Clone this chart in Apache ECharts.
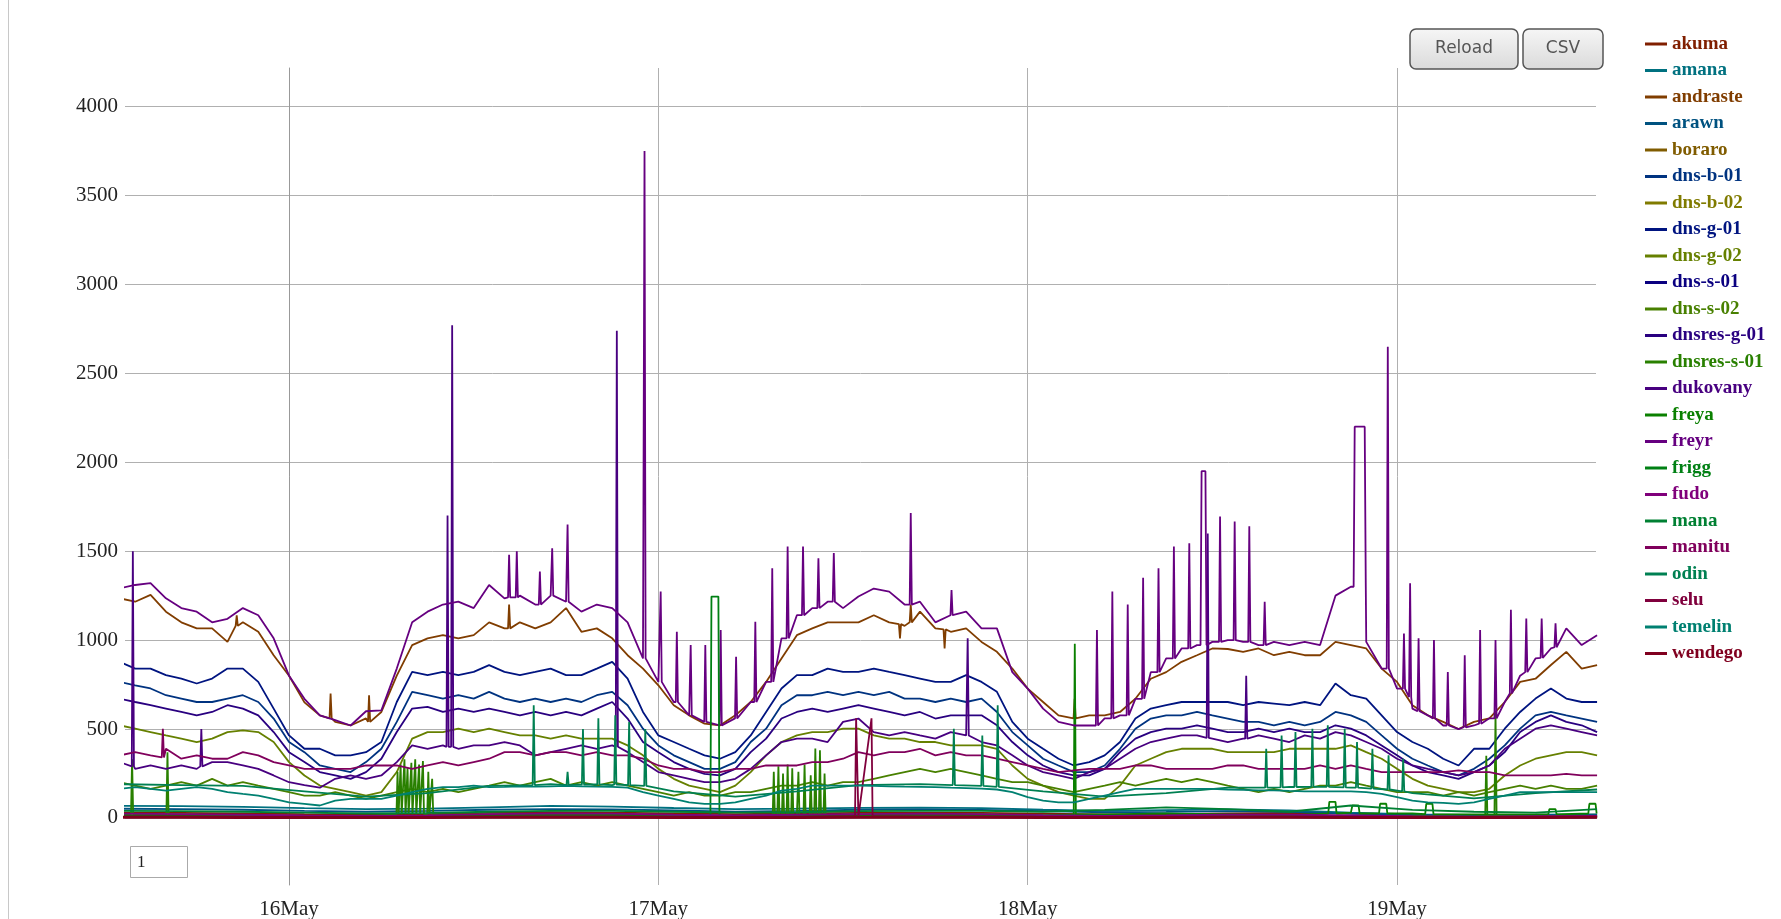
<!DOCTYPE html>
<html>
<head>
<meta charset="utf-8">
<title>dns load</title>
<script src="https://cdn.jsdelivr.net/npm/echarts@6/dist/echarts.min.js"></script>
<style>
    html, body { margin: 0; padding: 0; background: #fff; }
    #main { width: 1781px; height: 919px; }
</style>
</head>
<body>
<div id="main"></div>
<script>
// x values are hours counted from 16May 00:00
var firstHour = -11;
var xMin = -10.66, xMax = 84.93;
var yMin = -377, yMax = 4217;
var dayLabels = ['16May', '17May', '18May', '19May'];

var hostNames = ['akuma', 'amana', 'andraste', 'arawn', 'boraro', 'dns-b-01', 'dns-b-02', 'dns-g-01',
    'dns-g-02', 'dns-s-01', 'dns-s-02', 'dnsres-g-01', 'dnsres-s-01', 'dukovany', 'freya', 'freyr',
    'frigg', 'fudo', 'mana', 'manitu', 'odin', 'selu', 'temelin', 'wendego'];
var hostColors = ['#801f00', '#007180', '#803d00', '#005280', '#805c00', '#003380', '#807b00', '#001480',
    '#668000', '#0a0080', '#488000', '#290080', '#298000', '#480080', '#0a8000', '#660080',
    '#008014', '#80007b', '#008033', '#80005c', '#008052', '#80003d', '#008071', '#80001f'];

// hourly samples (97 values, -11h .. 85h)
var freyr = [1291, 1310, 1320, 1235, 1180, 1160, 1100, 1120, 1180, 1140, 1010, 800, 670, 577, 550, 520, 600, 605, 840, 1100, 1160, 1200, 1216, 1180,
    1310, 1235, 1250, 1200, 1250, 1216, 1160, 1200, 1180, 1100, 897, 765, 652, 577, 540, 520, 560, 652, 765, 1010, 1140, 1180, 1216, 1180,
    1245, 1290, 1273, 1200, 1216, 1100, 1140, 1160, 1066, 1066, 820, 727, 615, 540, 520, 520, 560, 577, 670, 820, 897, 953, 972, 990,
    1000, 990, 972, 990, 972, 990, 972, 1250, 1300, 990, 840, 727, 615, 577, 520, 500, 520, 560, 652, 800, 897, 953, 1066, 972, 1028];
var andraste = [1235, 1216, 1254, 1160, 1100, 1066, 1066, 990, 1100, 1047, 915, 800, 650, 577, 540, 520, 560, 596, 800, 972, 1010, 1028, 1010, 1028,
    1100, 1066, 1100, 1066, 1100, 1180, 1047, 1066, 1010, 915, 840, 746, 634, 577, 530, 520, 577, 652, 765, 897, 1028, 1066, 1100, 1100,
    1100, 1140, 1100, 1080, 1160, 1066, 1047, 1066, 990, 934, 840, 727, 652, 577, 560, 577, 577, 596, 670, 783, 820, 878, 915, 953,
    950, 934, 953, 915, 934, 915, 915, 990, 972, 953, 840, 765, 634, 577, 540, 500, 540, 560, 652, 765, 783, 860, 934, 840, 860];
var dnsG01 = [878, 840, 840, 803, 784, 756, 784, 840, 840, 765, 615, 464, 389, 389, 352, 352, 370, 427, 652, 821, 803, 821, 803, 821,
    859, 821, 803, 821, 840, 803, 803, 840, 878, 784, 596, 464, 427, 389, 352, 333, 370, 464, 596, 728, 803, 803, 840, 821,
    821, 840, 821, 803, 784, 765, 765, 803, 765, 709, 540, 446, 389, 333, 295, 314, 352, 427, 559, 615, 634, 652, 652, 652,
    652, 634, 652, 643, 634, 652, 634, 756, 690, 671, 577, 483, 427, 389, 333, 295, 389, 389, 502, 596, 671, 728, 671, 652, 652];
var dnsB01 = [765, 746, 728, 690, 671, 652, 652, 671, 690, 652, 559, 427, 370, 295, 276, 258, 314, 389, 540, 709, 690, 671, 690, 671,
    709, 671, 652, 671, 652, 671, 652, 690, 709, 634, 502, 408, 352, 314, 276, 276, 314, 427, 502, 634, 690, 690, 709, 690,
    709, 690, 709, 671, 671, 652, 671, 652, 671, 596, 483, 408, 333, 295, 258, 258, 295, 389, 502, 559, 577, 577, 596, 577,
    559, 540, 540, 521, 540, 521, 540, 596, 577, 540, 464, 389, 333, 295, 258, 239, 276, 333, 408, 502, 577, 596, 577, 559, 540];
var dnsresG01 = [671, 652, 634, 615, 596, 577, 596, 634, 615, 577, 483, 370, 314, 258, 239, 220, 258, 333, 483, 615, 625, 596, 615, 596,
    615, 596, 577, 596, 577, 596, 577, 615, 652, 559, 427, 370, 314, 276, 248, 239, 276, 370, 446, 559, 596, 615, 596, 615,
    634, 615, 596, 577, 596, 559, 577, 577, 577, 521, 427, 352, 295, 258, 239, 239, 276, 370, 446, 483, 502, 502, 521, 502,
    483, 483, 502, 483, 502, 483, 483, 521, 502, 464, 408, 352, 295, 258, 239, 220, 258, 295, 370, 483, 540, 577, 540, 521, 483];
var dnsG02 = [521, 502, 483, 464, 446, 427, 446, 483, 493, 483, 427, 314, 239, 182, 164, 145, 126, 145, 258, 446, 483, 483, 502, 483,
    502, 483, 464, 464, 446, 464, 446, 446, 446, 408, 352, 276, 220, 182, 164, 145, 182, 258, 352, 427, 464, 483, 483, 502,
    502, 464, 446, 446, 427, 427, 408, 408, 408, 389, 295, 220, 182, 145, 126, 107, 107, 182, 295, 333, 370, 389, 389, 389,
    370, 370, 370, 370, 389, 389, 389, 389, 408, 370, 333, 276, 220, 182, 164, 145, 145, 164, 239, 295, 333, 352, 370, 370, 352];
var manitu = [352, 370, 352, 389, 333, 352, 333, 333, 370, 352, 314, 295, 276, 276, 276, 276, 295, 295, 295, 276, 295, 314, 295, 314,
    333, 370, 370, 352, 370, 370, 352, 370, 352, 352, 333, 295, 276, 276, 258, 258, 276, 276, 295, 295, 295, 314, 314, 333,
    370, 352, 370, 370, 389, 352, 370, 352, 352, 333, 314, 295, 276, 258, 267, 276, 276, 276, 295, 295, 276, 276, 276, 276,
    295, 295, 276, 276, 276, 276, 295, 276, 295, 276, 258, 258, 258, 258, 258, 267, 258, 258, 239, 239, 239, 239, 248, 239, 239];
var dukovany = [314, 276, 295, 276, 295, 276, 314, 314, 295, 276, 239, 201, 185, 170, 220, 239, 220, 239, 314, 408, 389, 408, 389, 408,
    408, 427, 408, 352, 370, 389, 408, 389, 408, 370, 314, 258, 239, 220, 201, 201, 220, 276, 352, 427, 446, 446, 427, 540,
    559, 483, 464, 483, 464, 446, 483, 464, 427, 408, 352, 295, 258, 239, 220, 258, 276, 333, 389, 427, 446, 464, 464, 446,
    427, 446, 464, 446, 427, 464, 446, 483, 464, 427, 389, 333, 295, 276, 258, 239, 258, 295, 389, 446, 502, 521, 502, 483, 464];
var dnsS02 = [201, 182, 164, 182, 201, 182, 220, 182, 201, 182, 164, 145, 126, 126, 145, 126, 107, 126, 145, 164, 145, 164, 145, 164,
    182, 201, 182, 201, 220, 182, 201, 182, 201, 182, 164, 145, 126, 145, 126, 126, 145, 145, 164, 182, 182, 201, 182, 201,
    201, 220, 239, 258, 276, 258, 276, 258, 239, 220, 201, 201, 182, 164, 145, 164, 182, 201, 182, 201, 220, 201, 220, 201,
    182, 164, 145, 164, 145, 164, 182, 182, 201, 182, 164, 145, 145, 145, 126, 145, 126, 145, 164, 182, 164, 182, 164, 164, 182];
var temelin = [164, 173, 164, 154, 164, 173, 164, 145, 135, 126, 107, 88, 79, 70, 98, 107, 107, 107, 126, 145, 164, 173, 173, 182,
    173, 175, 178, 176, 178, 180, 178, 176, 175, 170, 145, 126, 107, 88, 79, 79, 88, 107, 126, 154, 164, 182, 182, 182,
    182, 180, 178, 176, 175, 173, 170, 168, 165, 160, 145, 117, 98, 88, 88, 107, 126, 145, 164, 164, 164, 164, 164, 164,
    160, 158, 155, 155, 152, 150, 150, 150, 150, 145, 135, 117, 98, 88, 85, 79, 88, 107, 126, 145, 145, 145, 145, 145, 145];

// 4-hourly samples (25 values, -11h .. 85h)
var akuma = [30, 28, 25, 22, 20, 22, 28, 32, 30, 26, 22, 25, 28, 30, 28, 24, 20, 22, 26, 28, 25, 18, 15, 15, 18];
var amana = [68, 66, 62, 55, 50, 53, 60, 68, 64, 56, 50, 53, 57, 58, 55, 46, 40, 44, 48, 42, 30, 20, 17, 18, 20];
var arawn = [52, 50, 46, 40, 35, 40, 46, 50, 48, 42, 36, 40, 46, 48, 45, 38, 32, 34, 38, 34, 24, 16, 12, 14, 16];
var boraro = [15, 14, 12, 10, 8, 10, 14, 15, 15, 12, 10, 12, 15, 15, 14, 11, 8, 10, 12, 12, 10, 8, 6, 7, 9];
var dnsB02 = [10, 10, 8, 6, 5, 6, 9, 10, 10, 8, 6, 8, 10, 10, 9, 7, 5, 6, 8, 8, 6, 5, 4, 5, 6];
var dnsS01 = [6, 6, 5, 4, 4, 5, 6, 6, 6, 5, 4, 5, 6, 6, 6, 5, 4, 4, 5, 5, 4, 4, 3, 3, 4];
var dnsresS01 = [20, 20, 15, 10, 10, 15, 20, 20, 20, 15, 10, 15, 20, 20, 20, 15, 10, 12, 15, 15, 12, 10, 8, 10, 12];
var freya = [15, 15, 12, 10, 10, 12, 15, 18, 18, 15, 12, 15, 18, 20, 18, 15, 20, 25, 20, 15, 30, 25, 20, 20, 25];
var frigg = [10, 10, 8, 6, 5, 6, 10, 10, 10, 8, 6, 8, 10, 10, 10, 8, 6, 6, 8, 8, 6, 5, 5, 5, 6];
var fudo = [25, 22, 18, 14, 12, 15, 22, 25, 24, 18, 14, 18, 22, 24, 22, 16, 12, 14, 18, 18, 14, 10, 8, 10, 12];
var mana = [40, 38, 35, 30, 25, 28, 35, 40, 40, 35, 30, 32, 38, 40, 40, 35, 45, 60, 50, 35, 70, 45, 35, 30, 50];
var odin = [190, 185, 180, 150, 120, 140, 180, 190, 185, 150, 120, 150, 185, 190, 185, 150, 120, 140, 170, 175, 170, 140, 110, 140, 160];
var selu = [8, 8, 6, 5, 5, 6, 8, 8, 8, 6, 5, 6, 8, 8, 8, 6, 5, 5, 6, 6, 5, 5, 4, 4, 5];
var wendego = [4, 4, 3, 3, 3, 3, 4, 4, 4, 3, 3, 3, 4, 4, 4, 3, 3, 3, 4, 4, 3, 3, 3, 3, 4];

// short spikes: [hour, base, peak] or [from, to, base, peak]
var freyrSpikes = [[14.3, 1240, 1480], [14.8, 1240, 1500], [16.3, 1200, 1385], [17.1, 1250, 1517], [18.1, 1216, 1650],
    [23.1, 897, 3750], [24.15, 765, 1273], [25.2, 652, 1047], [26.1, 577, 972], [27.05, 540, 972],
    [28.05, 520, 1057], [29.05, 560, 906], [30.3, 652, 1103], [31.4, 765, 1404], [32.4, 1010, 1527],
    [33.4, 1140, 1527], [34.4, 1180, 1460], [35.4, 1216, 1490],
    [40.4, 1200, 1715], [43.05, 1140, 1282], [52.5, 520, 1057], [53.5, 560, 1273], [54.5, 577, 1200],
    [55.5, 670, 1350], [56.5, 820, 1404], [57.5, 897, 1527], [58.5, 953, 1545], [59.3, 59.55, 972, 1950],
    [60.5, 990, 1695], [61.45, 1000, 1667], [62.4, 990, 1640], [63.4, 972, 1216],
    [69.25, 69.9, 1300, 2200], [71.4, 840, 2650], [72.45, 727, 1037], [72.85, 680, 1320], [73.4, 600, 1010],
    [74.4, 560, 1000], [75.3, 520, 820], [76.4, 510, 915], [77.4, 530, 1057], [78.4, 560, 1000],
    [79.4, 700, 1170], [80.4, 820, 1122], [81.4, 900, 1122], [82.3, 960, 1094]];
var dukovanySpikes = [[-10.15, 290, 1500], [-5.7, 290, 500], [10.3, 400, 1700], [10.6, 400, 2770],
    [21.3, 400, 2740], [44.1, 464, 1010], [59.7, 450, 1600], [62.2, 446, 800]];
var andrasteSpikes = [[-3.4, 1080, 1140], [2.7, 560, 700], [5.2, 540, 690], [14.3, 1066, 1200],
    [39.7, 1090, 1010], [40.4, 1100, 1200], [42.6, 1060, 953], [51.05, 560, 670]];
var manituSpikes = [[-8.2, 340, 502]];
var odinSpikes = [[15.9, 185, 634], [18.1, 185, 260], [19.1, 188, 500], [20.1, 188, 560], [21.2, 188, 577],
    [22.1, 185, 540], [23.15, 180, 500], [43.2, 185, 502], [45.05, 180, 464], [46.05, 175, 634],
    [63.5, 170, 389], [64.5, 172, 464], [65.4, 174, 483], [66.5, 175, 502], [67.5, 175, 521],
    [68.6, 172, 502], [69.4, 170, 427], [70.4, 165, 389], [71.45, 160, 352], [72.4, 150, 333]];
var dnsresS01Spikes = [[-10.2, 20, 330], [-7.9, 20, 370],
    [7.05, 20, 260], [7.25, 20, 300], [7.5, 20, 330], [7.7, 20, 280], [7.95, 20, 310], [8.2, 20, 330],
    [8.45, 20, 300], [8.7, 20, 320], [9.05, 20, 260], [9.3, 20, 220],
    [31.5, 15, 260], [31.8, 15, 290], [32.1, 15, 250], [32.4, 15, 300], [32.7, 15, 280], [33.1, 15, 260],
    [33.5, 15, 300], [33.9, 15, 240], [34.2, 15, 390], [34.5, 15, 380], [34.8, 15, 250],
    [77.8, 10, 350], [78.4, 10, 590]];
var freyaSpikes = [[51.06, 20, 980], [67.6, 68.0, 25, 90], [69.1, 69.5, 25, 70], [70.9, 71.3, 25, 80],
    [73.9, 74.3, 22, 80], [81.9, 82.3, 20, 50], [84.5, 84.9, 25, 80]];
var friggSpikes = [[27.45, 27.9, 10, 1245]];
var seluSpikes = [[36.85, 37.85, 10, 560]];

// name -> [values, step in hours, spikes]
var hostData = {
    'akuma': [akuma, 4], 'amana': [amana, 4], 'andraste': [andraste, 1, andrasteSpikes], 'arawn': [arawn, 4],
    'boraro': [boraro, 4], 'dns-b-01': [dnsB01, 1], 'dns-b-02': [dnsB02, 4], 'dns-g-01': [dnsG01, 1],
    'dns-g-02': [dnsG02, 1], 'dns-s-01': [dnsS01, 4], 'dns-s-02': [dnsS02, 1], 'dnsres-g-01': [dnsresG01, 1],
    'dnsres-s-01': [dnsresS01, 4, dnsresS01Spikes], 'dukovany': [dukovany, 1, dukovanySpikes],
    'freya': [freya, 4, freyaSpikes], 'freyr': [freyr, 1, freyrSpikes], 'frigg': [frigg, 4, friggSpikes],
    'fudo': [fudo, 4], 'mana': [mana, 4], 'manitu': [manitu, 1, manituSpikes], 'odin': [odin, 4, odinSpikes],
    'selu': [selu, 4, seluSpikes], 'temelin': [temelin, 1], 'wendego': [wendego, 4]
};

function buildPoints(values, step, spikes) {
    var pts = [];
    for (var i = 0; i < values.length; i++) {
        pts.push([firstHour + i * step, values[i]]);
    }
    (spikes || []).forEach(function (s) {
        var from = s[0], to = s.length === 4 ? s[1] : s[0];
        var base = s[s.length - 2], peak = s[s.length - 1];
        pts.push([from - 0.07, base], [from, peak], [to, peak], [to + 0.07, base]);
    });
    pts.sort(function (a, b) { return a[0] - b[0]; });
    return pts;
}

var myChart = echarts.init(document.getElementById('main'));

var series = hostNames.map(function (name, i) {
    var d = hostData[name];
    return {
        name: name,
        type: 'line',
        data: buildPoints(d[0], d[1], d[2]),
        showSymbol: false,
        symbol: 'none',
        lineStyle: { color: hostColors[i], width: name === 'wendego' ? 3 : 1.8 },
        itemStyle: { color: hostColors[i] },
        emphasis: { disabled: true }
    };
});

var buttonFill = new echarts.graphic.LinearGradient(0, 0, 0, 1, [
    { offset: 0, color: '#f6f6f6' },
    { offset: 1, color: '#dadada' }
]);

var option = {
    animation: false,
    grid: { left: 125, right: 185, top: 68, bottom: 34, outerBoundsMode: 'none' },
    xAxis: {
        type: 'value',
        min: xMin,
        max: xMax,
        splitNumber: 4,
        minInterval: 24,
        maxInterval: 24,
        axisLine: { show: true, lineStyle: { color: '#999', width: 1 } },
        axisTick: { show: false },
        axisLabel: {
            margin: 14,
            fontFamily: 'Liberation Serif',
            fontSize: 21,
            color: '#222',
            showMinLabel: false,
            showMaxLabel: false,
            formatter: function (v) {
                var k = Math.round(v / 24);
                return (Math.abs(v - k * 24) < 1e-6 && k >= 0 && k < dayLabels.length) ? dayLabels[k] : '';
            }
        },
        splitLine: { show: true, showMinLine: false, showMaxLine: false, lineStyle: { color: '#b0b0b0', width: 1 } }
    },
    yAxis: {
        type: 'value',
        min: yMin,
        max: yMax,
        splitNumber: 9,
        minInterval: 500,
        maxInterval: 500,
        axisLine: { show: true, lineStyle: { color: '#999', width: 1 } },
        axisTick: { show: false },
        axisLabel: {
            margin: 7,
            fontFamily: 'Liberation Serif',
            fontSize: 21,
            color: '#222',
            showMinLabel: false,
            showMaxLabel: false,
            formatter: function (v) {
                return (v >= 0 && v % 500 === 0) ? String(v) : '';
            }
        },
        splitLine: { show: true, showMinLine: false, showMaxLine: false, lineStyle: { color: '#b0b0b0', width: 1 } }
    },
    legend: {
        orient: 'vertical',
        left: 1640,
        top: 29,
        icon: 'rect',
        itemWidth: 22,
        itemHeight: 3,
        itemGap: 6.5,
        selectedMode: false,
        textStyle: { fontFamily: 'Liberation Serif', fontWeight: 'bold', fontSize: 19, lineHeight: 20 },
        data: hostNames.map(function (name, i) {
            return { name: name, textStyle: { color: hostColors[i] } };
        })
    },
    graphic: [
        { type: 'line', shape: { x1: 8.5, y1: 0, x2: 8.5, y2: 919 }, style: { stroke: '#c8c8c8', lineWidth: 1 } },
        { type: 'rect', shape: { x: 1410, y: 29, width: 108, height: 40, r: 6 },
            style: { fill: buttonFill, stroke: '#555', lineWidth: 1.5 } },
        { type: 'text', x: 1464, y: 49,
            style: { text: 'Reload', fontFamily: 'DejaVu Sans', fontSize: 17, fill: '#555', align: 'center', verticalAlign: 'middle' } },
        { type: 'rect', shape: { x: 1523, y: 29, width: 80, height: 40, r: 6 },
            style: { fill: buttonFill, stroke: '#555', lineWidth: 1.5 } },
        { type: 'text', x: 1563, y: 49,
            style: { text: 'CSV', fontFamily: 'DejaVu Sans', fontSize: 17, fill: '#555', align: 'center', verticalAlign: 'middle' } },
        { type: 'rect', shape: { x: 130.5, y: 846.5, width: 57, height: 31 },
            style: { fill: '#fff', stroke: '#aaa', lineWidth: 1 } },
        { type: 'text', x: 137, y: 863,
            style: { text: '1', fontFamily: 'Liberation Serif', fontSize: 17, fill: '#222', verticalAlign: 'middle' } }
    ],
    series: series
};

myChart.setOption(option);

window.addEventListener('resize', function () {
    myChart.resize();
});
</script>
</body>
</html>
